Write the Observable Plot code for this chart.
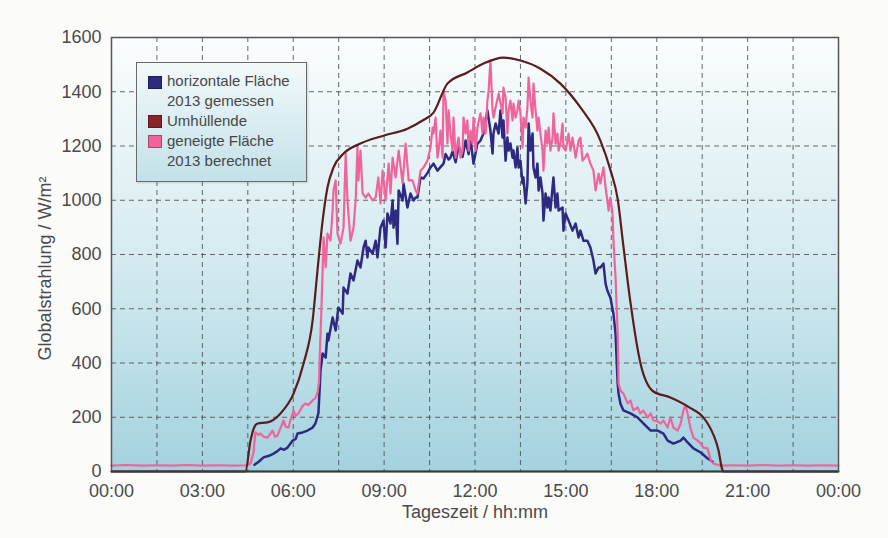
<!DOCTYPE html>
<html><head><meta charset="utf-8">
<script src="https://cdn.jsdelivr.net/npm/d3@7"></script>
<script src="https://cdn.jsdelivr.net/npm/@observablehq/plot@0.6"></script>
<style>
body{margin:0;background:#fbfbfa;font-family:"Liberation Sans",Arial,sans-serif;}
#wrap{position:relative;width:888px;height:538px;}
#legend{position:absolute;left:136px;top:62px;width:171px;height:120px;border:1.5px solid #6a6a6a;background:linear-gradient(#f3f9fa,#c2e1e9);box-sizing:border-box;box-shadow:1px 1px 2px rgba(0,0,0,0.15);}
.row{position:absolute;left:30px;font-size:15px;color:#474747;line-height:20px;white-space:nowrap;}
.sw{position:absolute;left:11px;width:12px;height:11px;}
</style></head>
<body>
<div id="wrap">
<div id="legend"></div>
</div>
<script>
// ---- data (hours of day, W/m²) ----
const xTicks = [0, 3, 6, 9, 12, 15, 18, 21, 24];
const xTickLabels = ["00:00","03:00","06:00","09:00","12:00","15:00","18:00","21:00","00:00"];
const yTicks = [0, 200, 400, 600, 800, 1000, 1200, 1400, 1600];
const xGrid = [1.5, 3, 4.5, 6, 7.5, 9, 10.5, 12, 13.5, 15, 16.5, 18, 19.5, 21, 22.5];
const yGrid = [200, 400, 600, 800, 1000, 1200, 1400];
const xTitle = "Tageszeit / hh:mm";
const yTitle = "Globalstrahlung / W/m²";
const seriesNames = ["horizontale Fläche\n2013 gemessen", "Umhüllende", "geneigte Fläche\n2013 berechnet"];
const seriesColors = ["#2e2a82", "#8a2428", "#f0649c"];

const horizontal = [[4.72,25],[4.85,35],[5.02,52],[5.20,58],[5.35,66],[5.48,75],[5.58,85],[5.70,80],[5.81,88],[5.98,114],[6.08,120],[6.14,140],[6.31,144],[6.47,151],[6.64,162],[6.73,177],[6.83,214],[6.87,300],[6.90,372],[6.97,435],[7.07,420],[7.13,508],[7.16,483],[7.30,568],[7.40,520],[7.49,605],[7.63,582],[7.66,678],[7.79,656],[7.89,730],[7.99,704],[8.12,778],[8.22,752],[8.32,826],[8.39,851],[8.45,789],[8.48,826],[8.62,803],[8.72,851],[8.78,789],[8.88,899],[8.98,925],[9.05,826],[9.11,951],[9.21,914],[9.28,999],[9.31,899],[9.38,962],[9.44,840],[9.48,1036],[9.61,999],[9.64,1062],[9.77,973],[9.87,1025],[9.97,999],[10.04,1010],[10.10,1010],[10.20,1084],[10.30,1080],[10.43,1100],[10.53,1121],[10.63,1135],[10.76,1109],[10.96,1135],[11.03,1170],[11.13,1150],[11.19,1157],[11.26,1180],[11.36,1140],[11.46,1200],[11.59,1160],[11.69,1220],[11.79,1170],[11.85,1230],[11.95,1135],[12.08,1209],[12.18,1220],[12.28,1246],[12.41,1331],[12.51,1257],[12.58,1172],[12.61,1246],[12.68,1283],[12.78,1246],[12.84,1331],[12.91,1231],[12.94,1294],[13.01,1146],[13.07,1231],[13.11,1183],[13.17,1209],[13.24,1157],[13.27,1183],[13.34,1121],[13.40,1194],[13.44,1121],[13.50,1146],[13.57,1062],[13.60,1084],[13.67,988],[13.73,1062],[13.77,1283],[13.83,1183],[13.90,1246],[13.93,1121],[14.00,1084],[14.06,1135],[14.10,1036],[14.16,1084],[14.23,1025],[14.26,925],[14.33,1025],[14.39,973],[14.43,1010],[14.49,962],[14.59,1084],[14.66,973],[14.72,1025],[14.76,962],[14.89,973],[14.92,888],[14.99,951],[15.09,925],[15.22,888],[15.32,914],[15.42,863],[15.48,888],[15.58,851],[15.71,851],[15.81,826],[15.91,778],[15.98,730],[16.08,752],[16.14,752],[16.24,767],[16.31,693],[16.37,667],[16.41,656],[16.47,641],[16.57,582],[16.64,508],[16.71,324],[16.74,287],[16.80,251],[16.90,225],[17.13,214],[17.37,199],[17.56,177],[17.80,151],[18.03,151],[18.22,140],[18.36,114],[18.55,103],[18.79,114],[18.88,125],[19.02,107],[19.21,85],[19.45,70],[19.68,48],[19.78,41],[19.85,35]];

const envelope = [[0,0],[4.42,0],[4.59,114],[4.70,160],[4.82,177],[5.15,181],[5.58,214],[6.01,287],[6.34,398],[6.64,557],[6.80,741],[6.97,925],[7.13,1047],[7.33,1121],[7.66,1172],[8.22,1209],[8.98,1238],[9.77,1264],[10.27,1294],[10.63,1323],[11.09,1430],[11.75,1471],[12.28,1504],[12.94,1526],[13.50,1515],[14.16,1485],[14.82,1430],[15.48,1342],[16.14,1220],[16.47,1112],[16.71,1005],[16.90,830],[17.13,625],[17.46,400],[17.89,295],[18.45,273],[19.02,240],[19.68,177],[20.04,77],[20.17,5],[20.22,0],[24,0]];

const geneigt = [[0,22],[0.5,24],[1,22],[1.5,23],[2,22],[2.5,24],[3,22],[3.5,23],[4,22],[4.49,23],[4.59,30],[4.69,70],[4.75,144],[4.85,135],[4.92,140],[5.02,128],[5.15,125],[5.25,140],[5.32,151],[5.40,128],[5.48,133],[5.58,160],[5.68,188],[5.75,165],[5.84,162],[5.91,190],[6.01,225],[6.08,205],[6.17,214],[6.30,240],[6.40,251],[6.50,245],[6.64,262],[6.73,270],[6.80,291],[6.85,330],[6.87,409],[6.93,600],[6.97,741],[7.00,863],[7.04,800],[7.07,752],[7.13,877],[7.23,851],[7.30,962],[7.33,1036],[7.40,1073],[7.46,877],[7.56,840],[7.66,899],[7.73,1172],[7.79,999],[7.89,851],[7.99,899],[8.06,999],[8.12,1194],[8.15,1073],[8.22,1183],[8.29,1025],[8.39,1010],[8.48,1025],[8.62,999],[8.72,1010],[8.81,1084],[8.88,988],[8.95,1109],[9.05,999],[9.15,1135],[9.21,1025],[9.28,1157],[9.38,1084],[9.48,1183],[9.61,1062],[9.71,1209],[9.81,1073],[9.94,1073],[10.04,1036],[10.10,1025],[10.20,1109],[10.30,1121],[10.43,1146],[10.53,1194],[10.60,1268],[10.63,1246],[10.70,1305],[10.76,1157],[10.80,1183],[10.86,1257],[10.93,1157],[10.96,1404],[11.03,1367],[11.09,1209],[11.13,1331],[11.19,1246],[11.26,1183],[11.29,1305],[11.36,1157],[11.42,1209],[11.46,1231],[11.52,1157],[11.59,1183],[11.62,1305],[11.69,1246],[11.75,1294],[11.79,1183],[11.85,1257],[11.92,1209],[11.95,1305],[12.02,1183],[12.08,1268],[12.18,1320],[12.25,1246],[12.28,1305],[12.35,1246],[12.41,1367],[12.45,1404],[12.51,1515],[12.58,1331],[12.61,1305],[12.68,1342],[12.78,1393],[12.91,1320],[12.94,1415],[13.01,1378],[13.07,1246],[13.11,1331],[13.17,1367],[13.24,1294],[13.27,1356],[13.34,1305],[13.40,1331],[13.44,1367],[13.50,1320],[13.57,1194],[13.60,1305],[13.67,1268],[13.73,1342],[13.77,1452],[13.83,1367],[13.90,1305],[13.93,1430],[14.00,1331],[14.06,1257],[14.10,1305],[14.16,1246],[14.23,1183],[14.26,1109],[14.33,1257],[14.39,1209],[14.43,1268],[14.49,1183],[14.56,1231],[14.59,1320],[14.66,1209],[14.72,1246],[14.76,1183],[14.82,1209],[14.89,1283],[14.92,1194],[14.99,1183],[15.05,1220],[15.09,1246],[15.15,1183],[15.22,1231],[15.32,1157],[15.42,1220],[15.48,1231],[15.55,1146],[15.65,1160],[15.71,1172],[15.81,1135],[15.91,1109],[15.98,1036],[16.08,1098],[16.14,1062],[16.24,1121],[16.31,1047],[16.37,999],[16.41,962],[16.47,1010],[16.54,951],[16.57,851],[16.64,715],[16.71,508],[16.74,324],[16.80,299],[16.90,287],[17.04,251],[17.13,262],[17.23,225],[17.37,236],[17.46,214],[17.56,225],[17.70,199],[17.80,214],[17.89,188],[18.03,185],[18.13,177],[18.22,188],[18.36,162],[18.45,199],[18.55,162],[18.69,151],[18.79,177],[18.88,225],[18.95,243],[19.02,214],[19.11,162],[19.21,125],[19.35,114],[19.45,103],[19.54,88],[19.68,85],[19.78,41],[19.87,29],[20.10,22],[20.5,23],[21,22],[21.5,24],[22,22],[22.5,23],[23,22],[23.5,23],[24,22]];

// ---- chart ----
const font = "Liberation Sans, Arial, sans-serif";
const chart = Plot.plot({
  width: 888, height: 538,
  marginLeft: 111, marginRight: 50, marginTop: 37, marginBottom: 67,
  style: {fontFamily: font, fontSize: "18px", color: "#4a4a4a", background: "transparent", overflow: "visible"},
  x: {domain: [0, 24], ticks: xTicks, tickFormat: (d) => xTickLabels[xTicks.indexOf(d)], tickSize: 0, tickPadding: 13, label: null},
  y: {domain: [0, 1600], ticks: yTicks, tickFormat: (d) => String(d), tickSize: 0, tickPadding: 10, label: null},
  marks: [
    Plot.frame({fill: "url(#bgGrad)"}),
    Plot.ruleX(xGrid, {stroke: "#4d4d4d", strokeDasharray: "5,4", strokeWidth: 1, strokeOpacity: 0.85}),
    Plot.ruleY(yGrid, {stroke: "#4d4d4d", strokeDasharray: "5,4", strokeWidth: 1, strokeOpacity: 0.85}),
    Plot.line(horizontal, {x: d => d[0], y: d => d[1], stroke: seriesColors[0], strokeWidth: 2.5}),
    Plot.line(geneigt, {x: d => d[0], y: d => d[1], stroke: seriesColors[2], strokeWidth: 2.2}),
    Plot.line(envelope, {x: d => d[0], y: d => d[1], stroke: "#5a1c1e", strokeWidth: 2.2, curve: "monotone-x"}),
    Plot.frame({stroke: "#555", strokeWidth: 1.5}),
    Plot.ruleY([0], {stroke: "#3a3a3a", strokeWidth: 2}),
    Plot.text([yTitle], {frameAnchor: "left", textAnchor: "middle", dx: -66, dy: 14, rotate: -90, fontSize: 18, fill: "#4a4a4a"}),
    Plot.text([xTitle], {frameAnchor: "bottom", textAnchor: "middle", dy: 46, fontSize: 18, fill: "#4a4a4a"})
  ]
});
const ns = "http://www.w3.org/2000/svg";
const defs = document.createElementNS(ns, "defs");
defs.innerHTML = '<linearGradient id="bgGrad" x1="0" y1="0" x2="0" y2="1"><stop offset="0" stop-color="#fbfdfd"/><stop offset="0.5" stop-color="#d5ebf0"/><stop offset="1" stop-color="#a3d2df"/></linearGradient>';
chart.insertBefore(defs, chart.firstChild);
const wrap = document.getElementById("wrap");
wrap.insertBefore(chart, wrap.firstChild);

// ---- legend ----
const legend = document.getElementById("legend");
const swatchTops = [13, 52, 72];
const rowTops = [[8, 28], [48], [68, 88]];
seriesNames.forEach((name, i) => {
  const sw = document.createElement("div");
  sw.className = "sw";
  sw.style.top = swatchTops[i] + "px";
  sw.style.background = seriesColors[i];
  sw.style.border = "0.5px solid rgba(0,0,0,0.3)";
  legend.appendChild(sw);
  name.split("\n").forEach((line, j) => {
    const r = document.createElement("div");
    r.className = "row";
    r.style.top = rowTops[i][j] + "px";
    r.textContent = line;
    legend.appendChild(r);
  });
});
</script>
</body></html>
